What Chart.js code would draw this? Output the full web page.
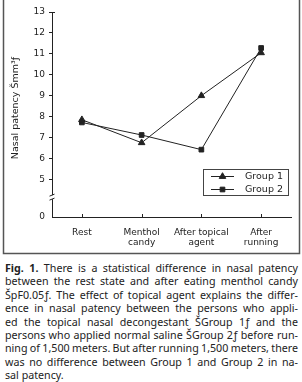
<!DOCTYPE html>
<html>
<head>
<meta charset="utf-8">
<script src="https://cdn.jsdelivr.net/npm/chart.js@4/dist/chart.umd.min.js"></script>
<style>
  html, body { margin: 0; padding: 0; background: #fff; width: 302px; height: 382px; overflow: hidden; }
  #wrap { position: absolute; left: 0; top: 0; width: 302px; height: 256px; }
  #cap { position: absolute; left: 5px; top: 262px; width: 293px; font-family: "Noto Sans"; font-size: 10.7px; line-height: 13.4px; color: #222; }
  #cap div { white-space: nowrap; transform-origin: left center; }
  #cap b { font-weight: 700; }
</style>
</head>
<body>
<div id="wrap"><canvas id="c" width="302" height="256"></canvas></div>
<div id="cap"></div>
<script>
const categories = [['Rest'], ['Menthol', 'candy'], ['After topical', 'agent'], ['After', 'running']];
const group1 = [7.85, 6.75, 9.0, 11.05];
const group2 = [7.72, 7.12, 6.42, 11.28];
const yTickLabels = [0, 5, 6, 7, 8, 9, 10, 11, 12, 13];
const zeroDrawnAt = 3.2;   // the axis is broken between 0 and 5
const breakAt = 4.15;
const yTitle = 'Nasal patency Šmm³ƒ';

const captionLines = [
  '<b>Fig. 1.</b> There is a statistical difference in nasal patency',
  'between the rest state and after eating menthol candy',
  'ŠpF0.05ƒ. The effect of topical agent explains the differ-',
  'ence in nasal patency between the persons who appli-',
  'ed the topical nasal decongestant ŠGroup 1ƒ and the',
  'persons who applied normal saline ŠGroup 2ƒ before run-',
  'ning of 1,500 meters. But after running 1,500 meters, there',
  'was no difference between Group 1 and Group 2 in na-',
  'sal patency.',
];

const ink = '#222';

const decor = {
  id: 'decor',
  afterDraw(chart) {
    const c = chart.ctx;
    const xs = chart.scales.x, ys = chart.scales.y;
    const left = ys.right, bottom = xs.top;
    c.save();
    c.strokeStyle = ink;
    c.lineWidth = 1;

    // upward ticks on the category axis
    categories.forEach((_, i) => {
      const x = Math.round(xs.getPixelForValue(i)) + 0.5;
      c.beginPath(); c.moveTo(x, bottom); c.lineTo(x, bottom - 3); c.stroke();
    });

    // cap at top of y axis
    const yTop = Math.round(ys.getPixelForValue(13)) + 0.5;
    c.beginPath(); c.moveTo(left, yTop); c.lineTo(left + 3, yTop); c.stroke();

    // axis break
    const yb = ys.getPixelForValue(breakAt);
    c.fillStyle = '#fff';
    c.fillRect(left - 3, yb - 2, 6, 4);
    c.beginPath();
    c.moveTo(left - 2.5, yb - 1); c.lineTo(left + 2.5, yb - 3);
    c.moveTo(left - 2.5, yb + 3); c.lineTo(left + 2.5, yb + 1);
    c.stroke();

    // y title
    c.fillStyle = ink;
    c.font = '9.5px "DejaVu Sans"';
    c.textAlign = 'center';
    c.textBaseline = 'middle';
    c.translate(16, 108);
    c.rotate(-Math.PI / 2);
    c.fillText(yTitle, 0, 0);
    c.setTransform(1, 0, 0, 1, 0, 0);

    // legend box
    const bx = 203.5, by = 169.5, bw = 85, bh = 26;
    c.strokeStyle = '#444';
    c.strokeRect(bx, by, bw, bh);
    c.font = '9.5px "DejaVu Sans"';
    c.textAlign = 'left';
    chart.data.datasets.forEach((ds, i) => {
      const y = 176.5 + i * 13;
      c.strokeStyle = ds.borderColor;
      c.beginPath(); c.moveTo(211, y); c.lineTo(234, y); c.stroke();
      Chart.helpers.drawPoint(c, { pointStyle: ds.pointStyle, radius: ds.pointRadius, borderWidth: 1 }, 222.5, y);
      c.fillStyle = ink;
      c.fillText(ds.label, 245, y);
    });

    // frame
    c.strokeStyle = '#555';
    c.lineWidth = 1.5;
    c.beginPath();
    c.moveTo(3.5, 0); c.lineTo(3.5, 253.5); c.lineTo(299.5, 253.5); c.lineTo(299.5, 0);
    c.stroke();
    c.restore();
  }
};

new Chart(document.getElementById('c'), {
  type: 'line',
  data: {
    labels: categories,
    datasets: [
      { label: 'Group 1', data: group1, pointStyle: 'triangle', pointRadius: 3.8, borderColor: ink, backgroundColor: ink, pointBackgroundColor: ink, borderWidth: 1, tension: 0 },
      { label: 'Group 2', data: group2, pointStyle: 'rect', pointRadius: 3.3, borderColor: ink, backgroundColor: ink, pointBackgroundColor: ink, borderWidth: 1, tension: 0 },
    ],
  },
  options: {
    responsive: false,
    animation: false,
    layout: { padding: { left: 0, right: 11, top: 12, bottom: 0 } },
    plugins: { legend: { display: false }, tooltip: { enabled: false } },
    scales: {
      x: {
        offset: true,
        grid: { display: false },
        border: { color: ink, width: 1 },
        ticks: { color: ink, font: { family: 'DejaVu Sans', size: 9, lineHeight: 1.05 }, padding: 3, maxRotation: 0, autoSkip: false },
        afterFit(s) { s.height = 39; },
      },
      y: {
        min: zeroDrawnAt,
        max: 13,
        afterBuildTicks(s) { s.ticks = yTickLabels.map(v => ({ value: v === 0 ? zeroDrawnAt : v })); },
        grid: {
          drawOnChartArea: false,
          tickLength: 3,
          color: (ctx) => (ctx.tick && ctx.tick.value === zeroDrawnAt ? 'rgba(0,0,0,0)' : ink),
        },
        border: { color: ink, width: 1 },
        ticks: {
          color: ink,
          font: { family: 'DejaVu Sans', size: 9 },
          padding: 4,
          callback: (v) => (v === zeroDrawnAt ? '0' : v),
        },
        afterFit(s) { s.width = 52; },
      },
    },
  },
  plugins: [decor],
});

// caption, each printed line justified to the column width
const cap = document.getElementById('cap');
const W = 293;
captionLines.forEach((html, i) => {
  const d = document.createElement('div');
  const s = document.createElement('span');
  s.innerHTML = html;
  d.appendChild(s);
  cap.appendChild(d);
  if (i === captionLines.length - 1) return;
  const w = s.getBoundingClientRect().width;
  const spaces = (s.textContent.match(/ /g) || []).length;
  let ws = (W - w) / spaces;
  if (ws < -1) ws = -1;
  s.style.wordSpacing = ws + 'px';
  const w2 = s.getBoundingClientRect().width;
  if (w2 > W) { d.style.transform = 'scaleX(' + (W / w2) + ')'; }
});
</script>
</body>
</html>
